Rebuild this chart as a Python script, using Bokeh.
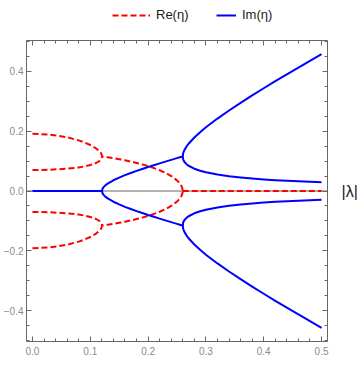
from bokeh.plotting import figure
from bokeh.layouts import column
from bokeh.models import (Range1d, LinearAxis, SingleIntervalTicker, CustomJSTickFormatter,
                          Span, Legend, LegendItem)
from bokeh.embed import file_html
from bokeh.resources import INLINE

# ---- data ----
# segment A: 0 <= |lambda| <= 0.1203  (four real eta, Im = 0)
lam_a = [0.0, 0.03, 0.06, 0.08, 0.09, 0.10, 0.105, 0.11, 0.115, 0.118, 0.1195, 0.1201, 0.1203]
re_outer_a = [0.1910, 0.1882, 0.1792, 0.1689, 0.1620, 0.1535, 0.1482, 0.1421, 0.1341, 0.1274, 0.1222, 0.1185, 0.1152]
re_inner_a = [0.0698, 0.0708, 0.0743, 0.0787, 0.0820, 0.0865, 0.0895, 0.0934, 0.0989, 0.1041, 0.1086, 0.1120, 0.1152]

# segment B: complex eta
lam_b = [0.1203, 0.121, 0.123, 0.126, 0.13, 0.14, 0.15, 0.16, 0.17, 0.18, 0.19, 0.20,
         0.21, 0.22, 0.23, 0.24, 0.25, 0.255, 0.258, 0.2595, 0.2601]
re_b = [0.1152, 0.1150, 0.1145, 0.1136, 0.1125, 0.1095, 0.1061, 0.1024, 0.0983, 0.0937, 0.0887, 0.0830,
        0.0765, 0.0692, 0.0605, 0.0498, 0.0355, 0.0250, 0.0156, 0.0069, 0.0]
im_b = [0.0, 0.0066, 0.0129, 0.0188, 0.0247, 0.0358, 0.0448, 0.0528, 0.0601, 0.0670, 0.0735, 0.0799,
        0.0861, 0.0921, 0.0980, 0.1038, 0.1096, 0.1124, 0.1141, 0.1150, 0.1152]

# segment C: purely imaginary eta
lam_c = [0.2601, 0.2604, 0.261, 0.263, 0.266, 0.27, 0.28, 0.29, 0.30, 0.32, 0.34, 0.36,
         0.38, 0.40, 0.42, 0.44, 0.46, 0.48, 0.50]
im_up_c = [0.1152, 0.1238, 0.1279, 0.1372, 0.1470, 0.1575, 0.1786, 0.1963, 0.2124, 0.2416, 0.2686, 0.2942,
           0.3189, 0.3428, 0.3662, 0.3892, 0.4118, 0.4341, 0.4562]
im_lo_c = [0.1152, 0.1072, 0.1037, 0.0967, 0.0902, 0.0842, 0.0743, 0.0676, 0.0625, 0.0549, 0.0494, 0.0451,
           0.0416, 0.0387, 0.0362, 0.0341, 0.0322, 0.0306, 0.0291]

# zero parts
lam_im0 = [0.0, 0.1203]
im_zero = [0.0, 0.0]
lam_re0 = [0.2601, 0.5]
re_zero = [0.0, 0.0]

labels = ["Re(\u03b7)", "Im(\u03b7)"]
x_label = "|\u03bb|"

RED = "#ff0000"
BLUE = "#0000ff"
FRAME = "#666666"
TICKTXT = "#8a8a8a"
FONT = "Liberation Sans"
W = 360
LEG_H = 30
dash = "6 3"
lw = 2

# ---------- main plot ----------
p = figure(width=W, height=348, output_backend="svg", toolbar_location=None,
           x_range=Range1d(-0.0103, 0.5103), y_range=Range1d(-0.502, 0.502),
           x_axis_type=None, y_axis_type=None,
           min_border_left=10, min_border_right=20, min_border_top=10, min_border_bottom=37)
p.outline_line_color = None
p.background_fill_color = "white"
p.border_fill_color = "white"

fmt_num = CustomJSTickFormatter(code="return tick.toFixed(1).replace('-', '\\u2212');")
fmt_none = CustomJSTickFormatter(code="return '';")
fmt_lam = CustomJSTickFormatter(args=dict(lab=x_label),
                                code="return Math.abs(tick) < 1e-9 ? lab : '';")


def style(ax, standoff):
    ax.axis_line_color = FRAME
    ax.axis_line_width = 1
    ax.major_tick_line_color = FRAME
    ax.minor_tick_line_color = FRAME
    ax.major_tick_in = 5
    ax.major_tick_out = 0
    ax.minor_tick_in = 3
    ax.minor_tick_out = 0
    ax.major_label_text_font = FONT
    ax.major_label_text_font_size = "10px"
    ax.major_label_text_color = TICKTXT
    ax.major_label_standoff = standoff


xb = LinearAxis(ticker=SingleIntervalTicker(interval=0.1, num_minor_ticks=5), formatter=fmt_num)
style(xb, 5)
xt = LinearAxis(ticker=SingleIntervalTicker(interval=0.1, num_minor_ticks=5), formatter=fmt_none)
style(xt, 0)
yl = LinearAxis(ticker=SingleIntervalTicker(interval=0.2, num_minor_ticks=4), formatter=fmt_num)
style(yl, 3)
yr = LinearAxis(ticker=SingleIntervalTicker(interval=0.2, num_minor_ticks=4), formatter=fmt_lam)
style(yr, 14)
yr.major_label_text_font_size = "16px"
yr.major_label_text_color = "#222222"
p.add_layout(xb, "below")
p.add_layout(xt, "above")
p.add_layout(yl, "left")
p.add_layout(yr, "right")

zero_line = Span(location=0, dimension="width", line_color=FRAME, line_width=1, level="underlay")
p.add_layout(zero_line)

# Re(eta): red dashed
p.line(lam_a + lam_b[1:], re_outer_a + re_b[1:], line_color=RED, line_width=lw,
       line_dash=dash, line_join="round")
p.line(lam_a + lam_b[1:], [-v for v in re_outer_a + re_b[1:]], line_color=RED, line_width=lw,
       line_dash=dash, line_join="round")
p.line(lam_a, re_inner_a, line_color=RED, line_width=lw, line_dash=dash, line_join="round")
p.line(lam_a, [-v for v in re_inner_a], line_color=RED, line_width=lw, line_dash=dash, line_join="round")
p.line(lam_re0, re_zero, line_color=RED, line_width=lw, line_dash=dash)

# Im(eta): blue solid
p.line(lam_im0, im_zero, line_color=BLUE, line_width=lw)
p.line(lam_b + lam_c[1:], im_b + im_up_c[1:], line_color=BLUE, line_width=lw, line_join="round")
p.line(lam_b + lam_c[1:], [-v for v in im_b + im_up_c[1:]], line_color=BLUE, line_width=lw, line_join="round")
p.line(lam_c, im_lo_c, line_color=BLUE, line_width=lw, line_join="round")
p.line(lam_c, [-v for v in im_lo_c], line_color=BLUE, line_width=lw, line_join="round")

# ---------- legend strip above the plot ----------
# (the strip's ranges lie away from the data, so only the legend shows there)
lg = figure(width=W, height=LEG_H, output_backend="svg", toolbar_location=None,
            x_range=Range1d(10, 11), y_range=Range1d(10, 11), x_axis_type=None, y_axis_type=None,
            min_border=0)
lg.outline_line_color = None
lg.background_fill_color = "white"
lg.border_fill_color = "white"
s_red = lg.line(lam_re0, re_zero, line_color=RED, line_width=lw, line_dash=dash)
s_blue = lg.line(lam_im0, im_zero, line_color=BLUE, line_width=lw)


def make_legend(item, x, glyph_w, standoff):
    return Legend(items=[item], location=(x, 8), orientation="horizontal",
                  glyph_width=glyph_w, glyph_height=14, label_height=14, label_standoff=standoff,
                  label_text_font=FONT, label_text_font_size="13px", label_text_color="#1a1a1a",
                  padding=0, margin=0, spacing=0, border_line_color=None, background_fill_alpha=0)


lg.add_layout(make_legend(LegendItem(label=labels[0], renderers=[s_red]), 86, 38, 6), "center")
lg.add_layout(make_legend(LegendItem(label=labels[1], renderers=[s_blue]), 190, 20, 6), "center")

page = column(lg, p, spacing=0)
open("out.html", "w").write(file_html(page, INLINE))
